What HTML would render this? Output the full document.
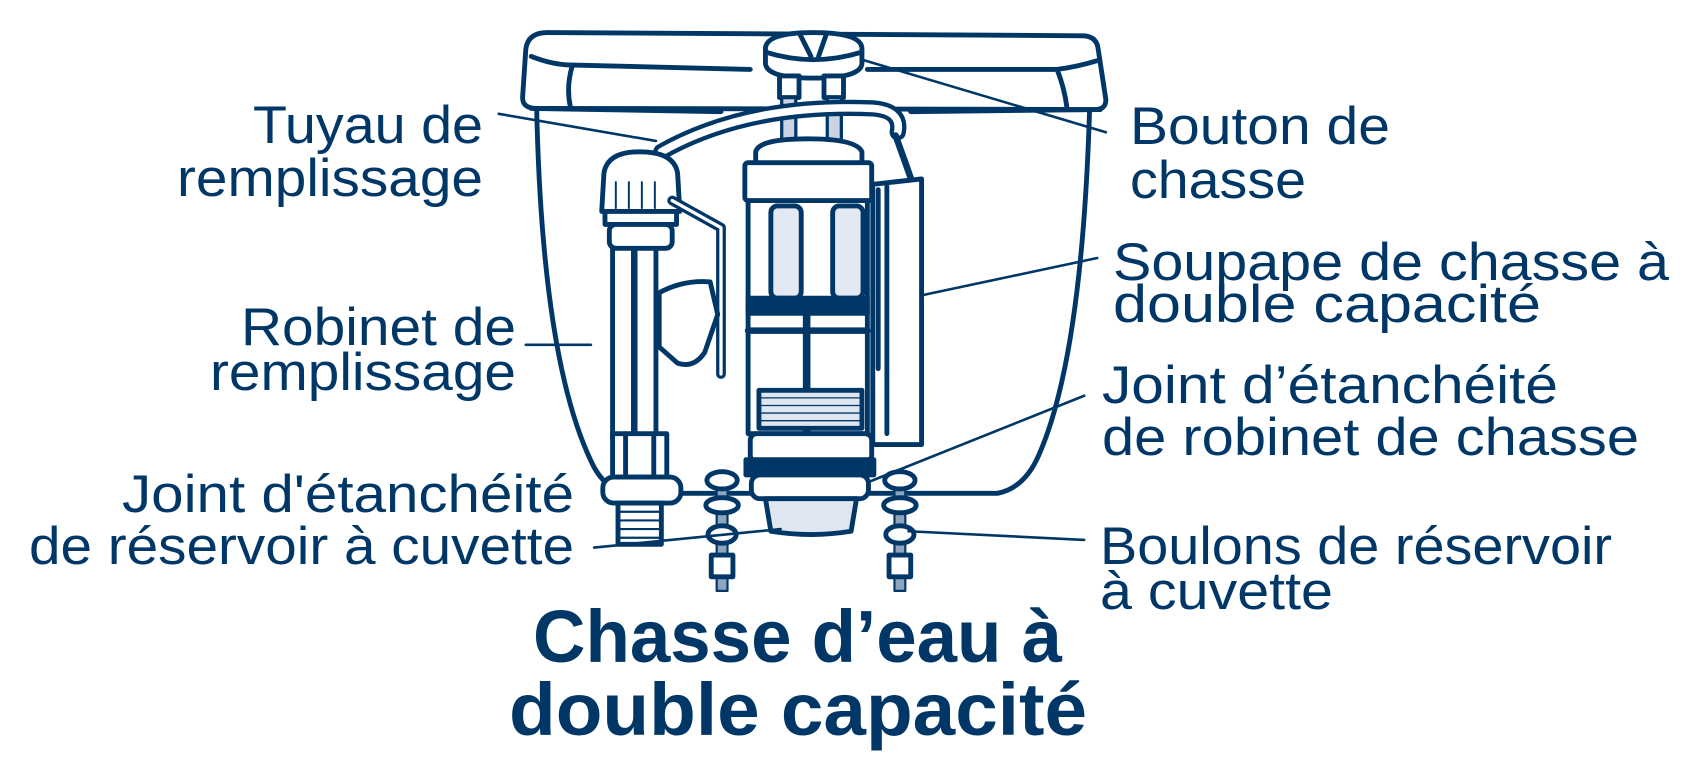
<!DOCTYPE html>
<html><head><meta charset="utf-8"><style>
html,body{margin:0;padding:0;background:#fff;}
svg{display:block;}
text{font-family:"Liberation Sans",sans-serif;fill:#003767;}
</style></head><body>
<svg width="1700" height="776" viewBox="0 0 1700 776" xmlns="http://www.w3.org/2000/svg">
<g transform="scale(1.0842)" fill="#fff" stroke="#003767" stroke-width="4.5" stroke-linejoin="round" stroke-linecap="round">
  <!-- tank body -->
  <path d="M495,100 Q500,330 545,425 Q557,452 580,455 L920,455 Q945,450 958,420 Q998,330 1005,100"/>
  <!-- lid -->
  <path d="M485,45 Q487,30 505,30 L1000,33 Q1012,34 1013,46 L1020,92 Q1020,101 1010,101 L495,100 Q482,100 482,90 Z"/>
  <path fill="none" d="M490,52 Q510,60 528,60 L692,64 M800,64 L975,64 Q992,62 1012,56"/>
  <path fill="none" d="M528,60 Q522,80 526,98 M975,64 Q982,82 984,99"/>
  <line x1="490" y1="100" x2="665" y2="103"/>
  <line x1="840" y1="103" x2="1015" y2="101"/>
  <!-- button -->
  <path d="M706,45 Q706,30 750,30 Q795,30 795,45 L795,58 Q795,72 750,72 Q706,72 706,58 Z"/>
  <path fill="none" d="M706,48 Q750,62 795,48 M738,32 L748,52 M762,32 L755,52"/>
  <rect x="719" y="70" width="18" height="20"/>
  <rect x="760" y="70" width="18" height="20"/>
  <rect x="721" y="90" width="13" height="45" fill="#c9d3e3" stroke-width="3"/>
  <rect x="763" y="90" width="13" height="45" fill="#c9d3e3" stroke-width="3"/>
  <!-- fill tube -->
  <path fill="none" stroke-width="15" d="M610,140 Q690,95 805,100 Q832,102 828,122"/>
  <path fill="none" stroke="#fff" stroke-width="7" d="M610,140 Q690,95 805,100 Q832,102 828,122"/>
  <!-- chain -->
  <path fill="none" stroke-width="6" d="M826,125 L835,150 L842,170"/>
  <!-- overflow -->
  <path d="M805,170 L850,165 L850,410 L805,410 Z"/>
  <line x1="818" y1="172" x2="818" y2="400"/>
  <line x1="810" y1="175" x2="810" y2="340"/>
  <!-- fill valve -->
  <rect x="565" y="225" width="40" height="180"/>
  <line x1="585" y1="230" x2="585" y2="480" stroke-width="6"/>
  <path d="M557,160 Q560,140 590,140 Q622,140 625,160 L627,195 L555,195 Z"/>
  <path fill="none" stroke-width="1.8" d="M568,168 L568,192 M580,168 L580,192 M592,168 L592,192 M604,168 L604,192"/>
  <rect x="558" y="195" width="66" height="12"/>
  <rect x="562" y="207" width="58" height="22" rx="6"/>
  <path fill="none" stroke-width="9" d="M620,185 L665,210 L665,345"/>
  <path fill="none" stroke="#fff" stroke-width="3" d="M620,185 L665,210 L665,345"/>
  <path d="M608,270 Q630,258 655,260 L662,290 L650,325 Q640,340 625,335 L608,320 Z"/>
  <rect x="565" y="400" width="50" height="40"/>
  <line x1="577" y1="400" x2="577" y2="440"/><line x1="603" y1="400" x2="603" y2="440"/>
  <rect x="556" y="440" width="72" height="24" rx="10"/>
  <rect x="570" y="464" width="40" height="38"/>
  <path fill="none" stroke-width="2" d="M570,472 L610,472 M570,480 L610,480 M570,488 L610,488 M570,496 L610,496"/>
  <!-- flush valve -->
  <rect x="690" y="185" width="110" height="215"/>
  <path d="M697,140 Q700,128 745,128 Q790,128 795,140 L795,152 L697,152 Z"/>
  <rect x="687" y="150" width="117" height="35" rx="3"/>
  <rect x="711" y="190" width="28" height="85" rx="6" fill="#e3e9f3"/>
  <rect x="768" y="190" width="28" height="85" rx="6" fill="#e3e9f3"/>
  <rect x="690" y="275" width="110" height="14" fill="#003767"/>
  <line x1="744" y1="290" x2="744" y2="430" stroke-width="7"/>
  <line x1="690" y1="305" x2="800" y2="305" stroke-width="6"/>
  <rect x="700" y="360" width="95" height="35" fill="#dfe6f0"/>
  <path fill="none" stroke-width="1.2" d="M702,367 H793 M702,374 H793 M702,381 H793 M702,388 H793"/>
  <rect x="692" y="400" width="112" height="26" rx="6"/>
  <rect x="688" y="424" width="118" height="14" fill="#003767"/>
  <rect x="693" y="438" width="108" height="22" rx="8"/>
  <path d="M706,460 L790,460 L785,490 Q748,496 711,490 Z" fill="#dfe6f0"/>
  <!-- bolts -->
  <g>
    <rect x="661" y="445" width="10" height="100" fill="#8fa4bf" stroke-width="2"/>
    <ellipse cx="666" cy="443" rx="14" ry="8"/>
    <ellipse cx="666" cy="466" rx="15" ry="7"/>
    <ellipse cx="666" cy="493" rx="13" ry="8"/>
    <rect x="656" y="512" width="20" height="20"/>
  </g>
  <g>
    <rect x="825" y="445" width="10" height="100" fill="#8fa4bf" stroke-width="2"/>
    <ellipse cx="830" cy="443" rx="14" ry="8"/>
    <ellipse cx="830" cy="466" rx="15" ry="7"/>
    <ellipse cx="830" cy="493" rx="13" ry="8"/>
    <rect x="820" y="512" width="20" height="20"/>
  </g>
  <!-- leaders -->
  <g stroke-width="2.4" fill="none">
    <line x1="460" y1="105" x2="605" y2="130"/>
    <line x1="485" y1="318" x2="545" y2="318"/>
    <line x1="548" y1="505" x2="720" y2="488"/>
    <line x1="795" y1="55" x2="1020" y2="122"/>
    <line x1="852" y1="272" x2="1012" y2="238"/>
    <line x1="800" y1="445" x2="1000" y2="365"/>
    <line x1="838" y1="490" x2="1000" y2="498"/>
  </g>
</g>
<g font-size="53">
  <text x="483" y="143" text-anchor="end" textLength="230" lengthAdjust="spacingAndGlyphs">Tuyau de</text>
  <text x="483" y="196" text-anchor="end" textLength="306" lengthAdjust="spacingAndGlyphs">remplissage</text>
  <text x="516" y="345" text-anchor="end" textLength="275" lengthAdjust="spacingAndGlyphs">Robinet de</text>
  <text x="516" y="390" text-anchor="end" textLength="306" lengthAdjust="spacingAndGlyphs">remplissage</text>
  <text x="574" y="512" text-anchor="end" textLength="452" lengthAdjust="spacingAndGlyphs">Joint d'étanchéité</text>
  <text x="574" y="564" text-anchor="end" textLength="545" lengthAdjust="spacingAndGlyphs">de réservoir à cuvette</text>
  <text x="1130" y="144" textLength="260" lengthAdjust="spacingAndGlyphs">Bouton de</text>
  <text x="1130" y="198" textLength="176" lengthAdjust="spacingAndGlyphs">chasse</text>
  <text x="1113" y="280" textLength="556" lengthAdjust="spacingAndGlyphs">Soupape de chasse à</text>
  <text x="1113" y="322" textLength="428" lengthAdjust="spacingAndGlyphs">double capacité</text>
  <text x="1102" y="403" textLength="456" lengthAdjust="spacingAndGlyphs">Joint d’étanchéité</text>
  <text x="1102" y="455" textLength="537" lengthAdjust="spacingAndGlyphs">de robinet de chasse</text>
  <text x="1100" y="564" textLength="512" lengthAdjust="spacingAndGlyphs">Boulons de réservoir</text>
  <text x="1100" y="609" textLength="233" lengthAdjust="spacingAndGlyphs">à cuvette</text>
</g>
<g font-size="74" font-weight="bold">
  <text x="533" y="662" textLength="529" lengthAdjust="spacingAndGlyphs">Chasse d’eau à</text>
  <text x="509" y="735" textLength="578" lengthAdjust="spacingAndGlyphs">double capacité</text>
</g>
</svg>
</body></html>
